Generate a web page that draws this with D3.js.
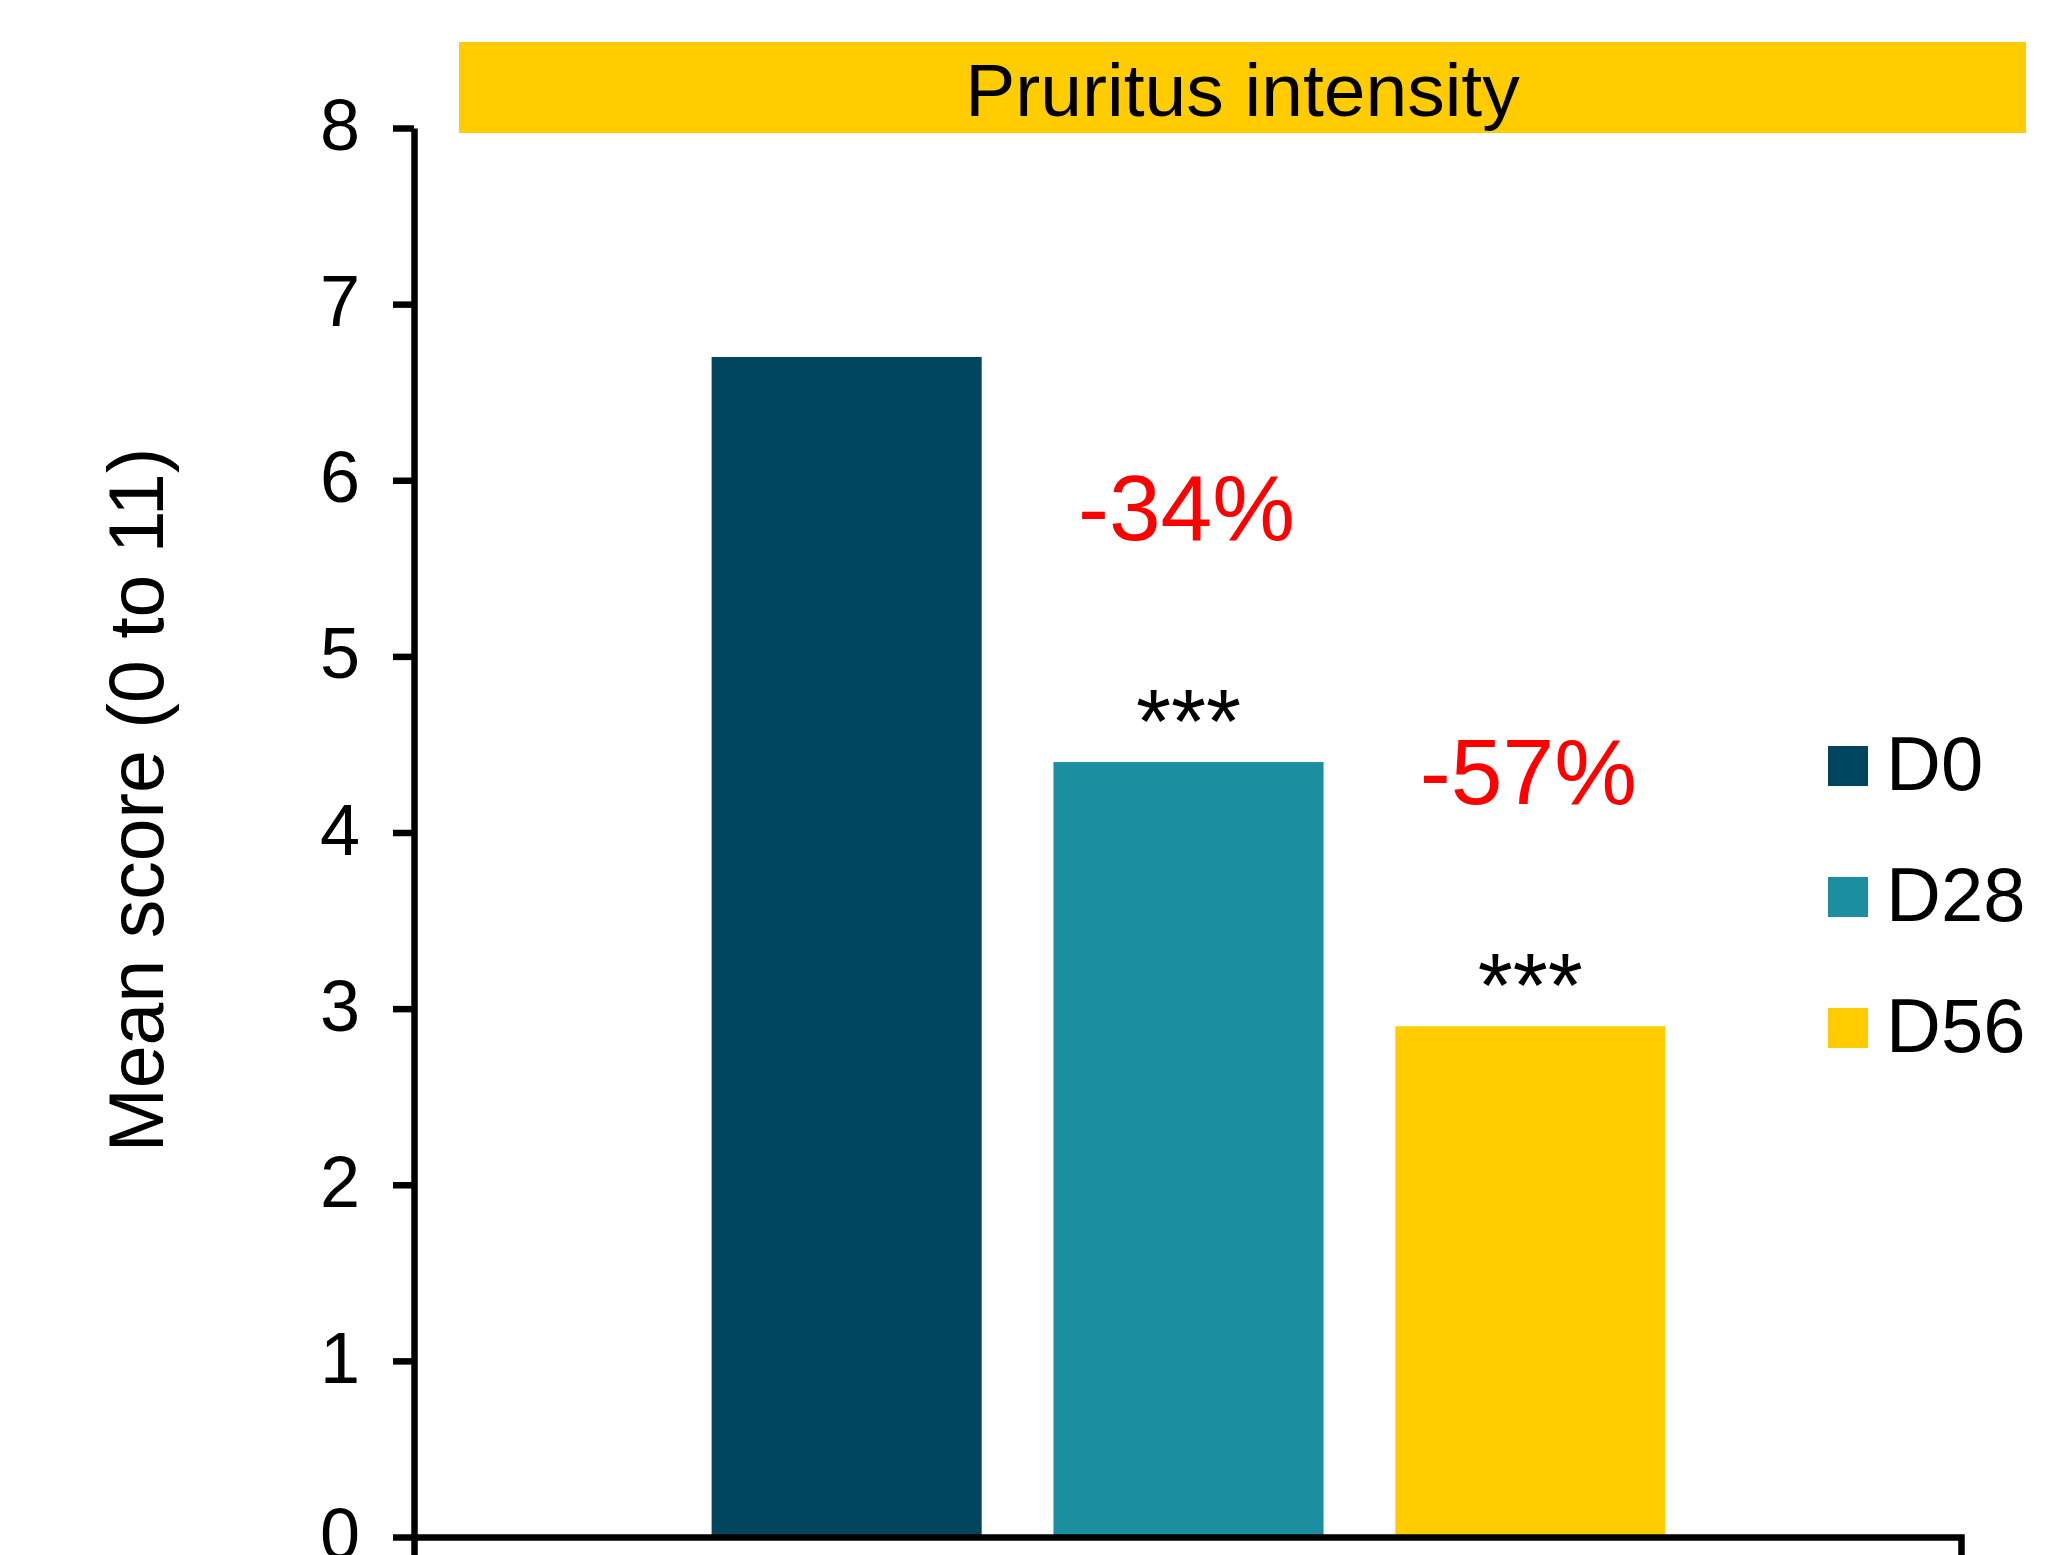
<!DOCTYPE html>
<html>
<head>
<meta charset="utf-8">
<script src="https://cdn.jsdelivr.net/npm/d3@7"></script>
<style>
  html, body { margin: 0; padding: 0; background: #fff; }
  svg { display: block; font-family: "Liberation Sans", Arial, sans-serif; }
</style>
</head>
<body>
<svg id="chart" width="2048" height="1555"></svg>
<script>
// Data
const categories = ["Pruritus intensity"];
const seriesNames = ["D0", "D28", "D56"];
const seriesValues = [6.7, 4.4, 2.9];
const significance = ["", "***", "***"];
const yTicks = [0, 1, 2, 3, 4, 5, 6, 7, 8];
const yLabel = "Mean score (0 to 11)";

const colors = ["#01465E", "#1B8EA0", "#FFCC00"];

const svg = d3.select("#chart");
const plot = { left: 414, right: 1961, top: 128, bottom: 1537 };

const y = d3.scaleLinear().domain([0, 8]).range([plot.bottom, plot.top]);
const x0 = d3.scaleBand().domain(categories)
  .range([plot.left, plot.right]).paddingInner(0).paddingOuter(0.311);
const x1 = d3.scaleBand().domain(seriesNames)
  .range([0, x0.bandwidth()]).paddingInner(0.21).paddingOuter(0);

// Category header banner
const bannerX = 459, bannerR = 2026;
svg.append("rect")
  .attr("x", bannerX).attr("y", 42)
  .attr("width", bannerR - bannerX).attr("height", 91)
  .attr("fill", "#FFCC00");
svg.append("text")
  .attr("x", (bannerX + bannerR) / 2).attr("y", 116)
  .attr("text-anchor", "middle")
  .attr("font-size", 75).attr("fill", "#000")
  .text(categories[0]);

// Bars
const g = svg.append("g").attr("transform", `translate(${x0(categories[0]) + 1},0)`);
const rows = seriesNames.map((s, i) => ({ name: s, value: seriesValues[i], sig: significance[i], color: colors[i] }));

g.selectAll("rect.bar").data(rows).join("rect")
  .attr("class", "bar")
  .attr("x", d => x1(d.name))
  .attr("y", d => y(d.value))
  .attr("width", x1.bandwidth())
  .attr("height", d => y(0) - y(d.value))
  .attr("fill", d => d.color);

// Significance markers
g.selectAll("text.sig").data(rows.filter(d => d.sig)).join("text")
  .attr("class", "sig")
  .attr("x", d => x1(d.name) + x1.bandwidth() / 2)
  .attr("y", d => y(d.value) - 9)
  .attr("text-anchor", "middle")
  .attr("font-size", 90).attr("fill", "#000")
  .text(d => d.sig);

// Percent change from baseline
const base = seriesValues[0];
g.selectAll("text.chg").data(rows.slice(1)).join("text")
  .attr("class", "chg")
  .attr("x", d => x1(d.name) + x1.bandwidth() / 2 - 2)
  .attr("y", d => y(d.value) - 222)
  .attr("text-anchor", "middle")
  .attr("font-size", 93).attr("fill", "#FF0000")
  .text(d => `${Math.round((d.value - base) / base * 100)}%`);

// Y axis
const yAxis = d3.axisLeft(y).tickValues(yTicks).tickSize(21).tickSizeOuter(0).tickPadding(33);
const yg = svg.append("g").attr("transform", `translate(${plot.left},0)`).call(yAxis);
yg.select(".domain").attr("stroke", "#000").attr("stroke-width", 6.5);
yg.selectAll(".tick line").attr("stroke", "#000").attr("stroke-width", 6.5);
yg.selectAll(".tick text")
  .attr("font-size", 72).attr("fill", "#000")
  .attr("font-family", "'Liberation Sans', Arial, sans-serif")
  .attr("dy", "0.3em");

// X axis (category boundaries drawn as outer ticks)
const xAxis = d3.axisBottom(x0.copy().paddingOuter(0)).tickSizeInner(0).tickSizeOuter(22).tickFormat("");
const xg = svg.append("g").attr("transform", `translate(0,${plot.bottom})`).call(xAxis);
xg.select(".domain").attr("stroke", "#000").attr("stroke-width", 6.5);
xg.selectAll(".tick").remove();

// Y axis title
svg.append("text")
  .attr("transform", `translate(163,800) rotate(-90)`)
  .attr("text-anchor", "middle")
  .attr("font-size", 77).attr("fill", "#000")
  .text(yLabel);

// Legend
const legend = svg.append("g").attr("transform", "translate(1828,0)");
const legendY = [766, 897, 1028];
const lg = legend.selectAll("g").data(rows).join("g")
  .attr("transform", (d, i) => `translate(0,${legendY[i]})`);
lg.append("rect").attr("x", 0).attr("y", -20).attr("width", 40).attr("height", 40)
  .attr("fill", d => d.color);
lg.append("text").attr("x", 58).attr("y", 24)
  .attr("font-size", 76).attr("fill", "#000")
  .text(d => d.name);
</script>
</body>
</html>
